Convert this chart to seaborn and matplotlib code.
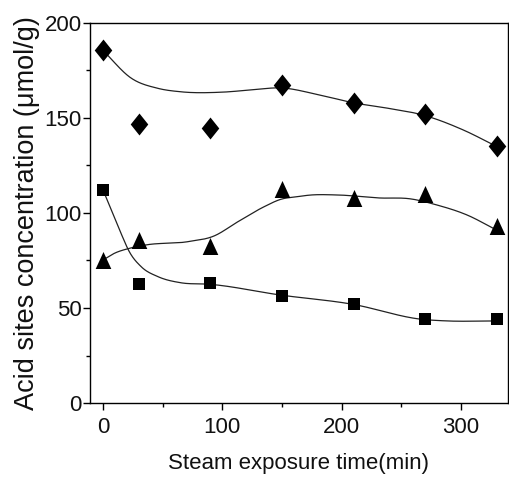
import numpy as np
import pandas as pd
import matplotlib
matplotlib.use("Agg")
import matplotlib.pyplot as plt
from matplotlib.ticker import MultipleLocator
import seaborn as sns

# Measured acid site concentrations versus steam exposure time
time_min = [0, 30, 90, 150, 210, 270, 330]
diamond_vals = [185.8, 146.6, 144.9, 167.4, 158.0, 152.0, 135.0]
triangle_vals = [75.3, 85.8, 82.8, 112.8, 108.0, 110.0, 93.3]
square_vals = [112.1, 62.6, 63.3, 56.3, 51.9, 44.0, 44.0]

# Knots of the smooth fitted guide curves
diamond_fit_t = [0, 23.5, 46, 65, 100, 123, 150, 179, 210, 240, 268, 302, 330]
diamond_fit_v = [185.5, 171.0, 165.6, 163.8, 163.6, 164.7, 165.8, 162.5, 158.0, 155.0, 151.6, 143.7, 135.0]
triangle_fit_t = [0, 9.5, 22, 36, 71, 93, 113, 135, 149, 163, 173, 196, 232, 257, 280, 305, 330]
triangle_fit_v = [75.3, 78.8, 81.4, 83.2, 84.9, 87.9, 95.4, 103.3, 107.2, 108.6, 109.4, 109.5, 107.9, 107.5, 104.2, 99.0, 91.0]
square_fit_t = [0, 15, 22, 32, 46, 65, 89, 149, 208, 268, 288, 330]
square_fit_v = [112.0, 89.3, 79.6, 71.7, 66.5, 63.3, 62.5, 56.8, 52.1, 44.0, 43.2, 43.2]


def smooth_curve(t, v, n=400):
    """Cubic Hermite curve through the knots."""
    t = np.asarray(t, float)
    v = np.asarray(v, float)
    m = np.gradient(v, t)
    tt = np.linspace(t[0], t[-1], n)
    idx = np.clip(np.searchsorted(t, tt) - 1, 0, len(t) - 2)
    h = t[idx + 1] - t[idx]
    s = (tt - t[idx]) / h
    h00 = 2 * s**3 - 3 * s**2 + 1
    h10 = s**3 - 2 * s**2 + s
    h01 = -2 * s**3 + 3 * s**2
    h11 = s**3 - s**2
    vv = h00 * v[idx] + h10 * h * m[idx] + h01 * v[idx + 1] + h11 * h * m[idx + 1]
    return tt, vv


# Slightly tall diamond and triangle glyphs
tall_diamond = [(0, 1), (0.8, 0), (0, -1), (-0.8, 0), (0, 1)]
tall_triangle = [(0, 1), (-0.92, -1), (0.92, -1), (0, 1)]

sns.set_theme(style="white")
plt.rcParams["font.family"] = ["Liberation Sans", "DejaVu Sans"]

fig = plt.figure(figsize=(5.09, 4.78), dpi=100)
ax = fig.add_axes([0.1768, 0.1569, 0.8212, 0.795])

# Fitted curves
for t, v in [(diamond_fit_t, diamond_fit_v),
             (triangle_fit_t, triangle_fit_v),
             (square_fit_t, square_fit_v)]:
    tt, vv = smooth_curve(t, v)
    sns.lineplot(x=tt, y=vv, ax=ax, color="#222222", linewidth=0.9,
                 sort=False, estimator=None)

# Measured points
pts = pd.DataFrame({"t": time_min, "d": diamond_vals,
                    "tr": triangle_vals, "sq": square_vals})
sns.scatterplot(data=pts, x="t", y="d", ax=ax, marker=tall_diamond, s=250,
                color="black", edgecolor="black", linewidth=0, zorder=3)
sns.scatterplot(data=pts, x="t", y="tr", ax=ax, marker=tall_triangle, s=150,
                color="black", edgecolor="black", linewidth=0, zorder=3)
sns.scatterplot(data=pts, x="t", y="sq", ax=ax, marker="s", s=72,
                color="black", edgecolor="black", linewidth=0, zorder=3)

ax.set_xlim(-11, 339.5)
ax.set_ylim(0, 200)
ax.xaxis.set_major_locator(MultipleLocator(100))
ax.xaxis.set_minor_locator(MultipleLocator(50))
ax.yaxis.set_major_locator(MultipleLocator(50))
ax.yaxis.set_minor_locator(MultipleLocator(25))

for sp in ax.spines.values():
    sp.set_visible(True)
    sp.set_color("black")
    sp.set_linewidth(1.0)

ax.tick_params(axis="both", which="major", direction="out", length=5,
               width=1.0, color="black", labelsize=16,
               bottom=True, left=True, top=False, right=False)
ax.tick_params(axis="both", which="minor", direction="out", length=3,
               width=1.0, color="black",
               bottom=True, left=True, top=False, right=False)
ax.tick_params(axis="x", which="major", pad=5)
ax.tick_params(axis="y", which="major", pad=1)
for lab in ax.get_xticklabels() + ax.get_yticklabels():
    lab.set_color("#111111")

ax.set_xlabel("Steam exposure time(min)", fontsize=16, color="#111111",
              labelpad=11)
ax.set_ylabel("Acid sites concentration (\u03bcmol/g)", fontsize=19.5,
              color="#111111", labelpad=3)
ax.grid(False)

fig.savefig("out.png", dpi=100)
